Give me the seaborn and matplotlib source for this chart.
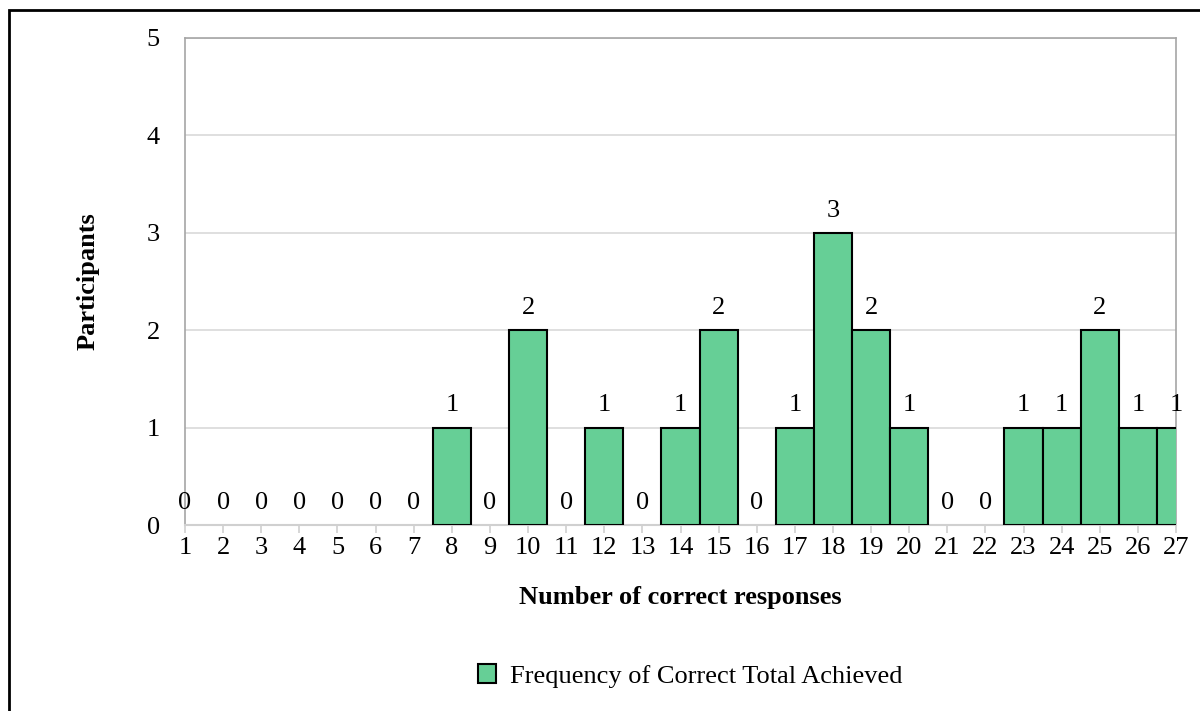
import matplotlib
matplotlib.use("Agg")
import matplotlib.pyplot as plt
import seaborn as sns
import pandas as pd
from matplotlib.patches import Patch, Rectangle

scores = list(range(1, 28))
participants = [0, 0, 0, 0, 0, 0, 0, 1, 0, 2, 0, 1, 0, 1, 2, 0, 1, 3, 2, 1, 0, 0, 1, 1, 2, 1, 1]
y_ticks = [0, 1, 2, 3, 4, 5]
series_name = "Frequency of Correct Total Achieved"
x_title = "Number of correct responses"
y_title = "Participants"

sns.set_theme(style="white")
plt.rcParams['font.family'] = ['Liberation Serif', 'DejaVu Serif']
plt.rcParams['text.color'] = 'black'
plt.rcParams['axes.labelcolor'] = 'black'
plt.rcParams['xtick.color'] = 'black'
plt.rcParams['ytick.color'] = 'black'

FS = 19
W, H = 1200, 711
fig = plt.figure(figsize=(W / 100, H / 100), dpi=100)
ax = fig.add_axes([185 / W, 1 - 525 / H, (1176 - 185) / W, (525 - 38) / H])

bar_color = "#66CF96"
df = pd.DataFrame({"score": [str(s) for s in scores], "n": participants})
sns.barplot(data=df, x="score", y="n", color=bar_color, saturation=1, width=1.0,
            edgecolor="black", linewidth=1.5, ax=ax, zorder=3)

for patch in ax.containers[0]:
    if patch.get_height() == 0:
        patch.set_linewidth(0)

ax.bar_label(ax.containers[0], padding=8, fontsize=FS, color="black")

ax.set_xlim(0, len(scores) - 1)
ax.set_ylim(0, 5)
ax.set_yticks(y_ticks)
ax.set_yticklabels([str(t) for t in y_ticks])
ax.yaxis.grid(True, color="#d9d9d9", linewidth=1.2, zorder=0)
ax.set_axisbelow(True)

for side in ["left", "top", "right"]:
    ax.spines[side].set_visible(True)
    ax.spines[side].set_color("#a6a6a6")
    ax.spines[side].set_linewidth(1.2)
ax.spines["bottom"].set_color("#d0d0d0")
ax.spines["bottom"].set_linewidth(1.5)

ax.tick_params(axis="x", which="both", bottom=True, length=6, width=1.2, color="#d0d0d0",
               labelsize=FS, pad=3, direction="out", labelcolor="black")
ax.tick_params(axis="y", left=False, labelsize=FS, pad=12, labelcolor="black")

ax.set_xlabel(x_title, fontsize=FS, fontweight="bold", labelpad=19, color="black")
ax.set_ylabel(y_title, fontsize=FS, fontweight="bold", labelpad=34, color="black")

handle = Patch(facecolor=bar_color, edgecolor="black", linewidth=1.5, label=series_name)
fig.legend(handles=[handle], loc="center", bbox_to_anchor=(690 / W, 1 - 676 / H),
           frameon=False, fontsize=FS, handlelength=0.7, handleheight=0.7, handletextpad=0.5)

fig.add_artist(Rectangle((9 / W, -0.1), 1.2, (H - 10) / H + 0.1, fill=False,
                         edgecolor="black", linewidth=2, transform=fig.transFigure))

fig.savefig("out.png", dpi=100)
